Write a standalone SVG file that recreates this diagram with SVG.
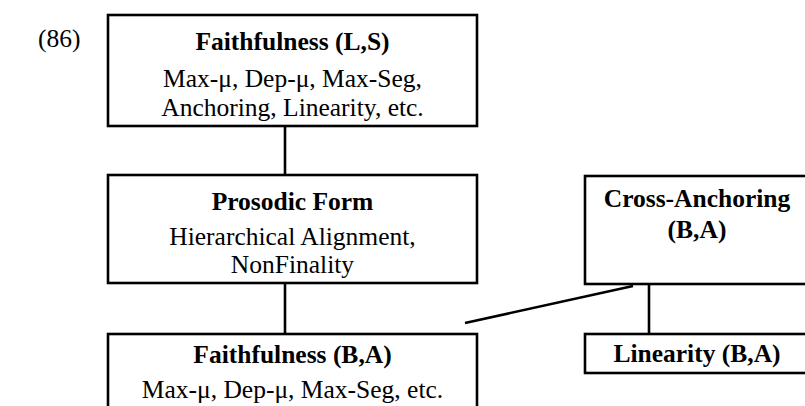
<svg xmlns="http://www.w3.org/2000/svg" width="805" height="406" viewBox="0 0 805 406">
<style>
.box{fill:#fff;stroke:#000;stroke-width:2.6}
.ln{stroke:#000;stroke-width:2.6;fill:none}
text{font-family:"Liberation Serif","Times New Roman",serif;font-size:25.5px;fill:#000;text-anchor:middle}
.b{font-weight:bold}
</style>
<rect width="805" height="406" fill="#fff"/>
<text x="38" y="47" style="text-anchor:start">(86)</text>
<g id="connectors">
<line class="ln" x1="285" y1="126" x2="285" y2="175"/>
<line class="ln" x1="285" y1="283" x2="285" y2="334"/>
<line class="ln" x1="649" y1="284" x2="649" y2="334"/>
<line class="ln" x1="465" y1="323" x2="633" y2="286"/>
</g>
<g id="faith-LS">
<rect class="box" x="108" y="15" width="369" height="111"/>
<text class="b" x="292.5" y="50">Faithfulness (L,S)</text>
<text x="292.5" y="87">Max-μ, Dep-μ, Max-Seg,</text>
<text x="292.5" y="116">Anchoring, Linearity, etc.</text>
</g>
<g id="prosodic-form">
<rect class="box" x="108" y="175" width="369" height="108"/>
<text class="b" x="292.5" y="210">Prosodic Form</text>
<text x="292.5" y="245">Hierarchical Alignment,</text>
<text x="292.5" y="273">NonFinality</text>
</g>
<g id="faith-BA">
<rect class="box" x="108" y="334" width="369" height="100"/>
<text class="b" x="292.5" y="363">Faithfulness (B,A)</text>
<text x="292.5" y="398">Max-μ, Dep-μ, Max-Seg, etc.</text>
</g>
<g id="cross-anchoring">
<rect class="box" x="585" y="176" width="225" height="108"/>
<text class="b" x="697" y="207">Cross-Anchoring</text>
<text class="b" x="697" y="238">(B,A)</text>
</g>
<g id="linearity-BA">
<rect class="box" x="585" y="334" width="225" height="39"/>
<text class="b" x="697" y="362">Linearity (B,A)</text>
</g>
</svg>
